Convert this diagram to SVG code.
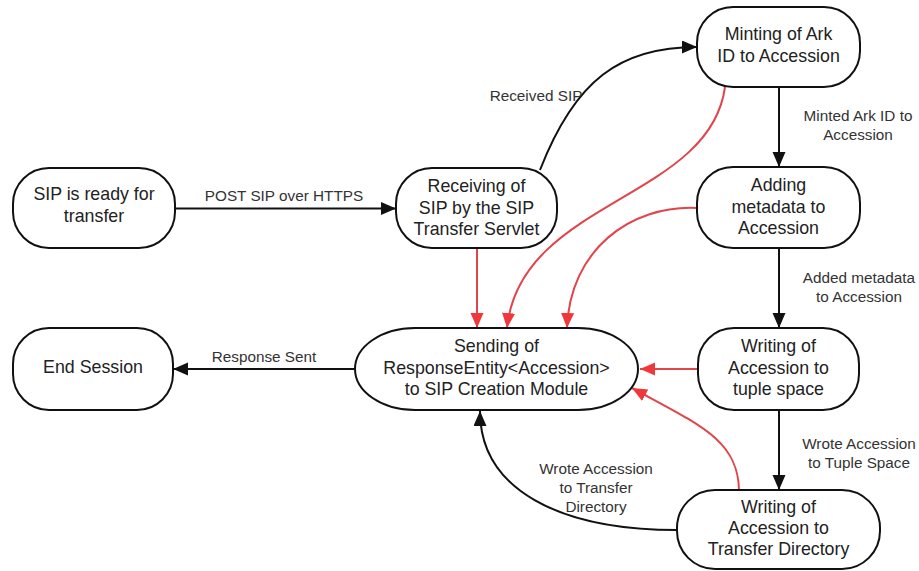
<svg xmlns="http://www.w3.org/2000/svg" width="919" height="571" viewBox="0 0 919 571">
<style>
.node rect{fill:#fff;stroke:#111;stroke-width:2}
.nt{font-family:"Liberation Sans",Arial,sans-serif;font-size:17.8px;fill:#222;text-anchor:middle}
.lb{font-family:"Liberation Sans",Arial,sans-serif;font-size:15.3px;fill:#333;text-anchor:middle}
.blk{fill:none;stroke:#111;stroke-width:2}
.red{fill:none;stroke:#e0454b;stroke-width:2}
</style>
<defs>
<marker id="ab" markerUnits="userSpaceOnUse" markerWidth="17" markerHeight="14" refX="15" refY="6.5" orient="auto"><path d="M0,0 L15,6.5 L0,13 z" fill="#111"/></marker>
<marker id="ar" markerUnits="userSpaceOnUse" markerWidth="17" markerHeight="14" refX="15" refY="6.5" orient="auto"><path d="M0,0 L15,6.5 L0,13 z" fill="#f0383c"/></marker>
</defs>
<rect width="919" height="571" fill="#fff"/>
<g id="connectors">
<path class="blk" d="M175,208.5 L396,208.5" marker-end="url(#ab)"/>
<path class="blk" d="M540,170 C575,80 620,47 697,47" marker-end="url(#ab)"/>
<path class="blk" d="M779,87 L779,167" marker-end="url(#ab)"/>
<path class="blk" d="M779,248 L779,328" marker-end="url(#ab)"/>
<path class="blk" d="M779,410 L779,490" marker-end="url(#ab)"/>
<path class="blk" d="M677,530 C560,530 480,490 480,411" marker-end="url(#ab)"/>
<path class="blk" d="M355,369 L173,369" marker-end="url(#ab)"/>
<path class="red" d="M477,248 L477,328" marker-end="url(#ar)"/>
<path class="red" d="M725,87 C710,200 520,200 507,328" marker-end="url(#ar)"/>
<path class="red" d="M697,208 C630,205 570,250 567,328" marker-end="url(#ar)"/>
<path class="red" d="M698,369 L640,369" marker-end="url(#ar)"/>
<path class="red" d="M739,490 C738,440 700,425 632,388" marker-end="url(#ar)"/>
<text class="lb" x="284" y="201">POST SIP over HTTPS</text>
<text class="lb" x="536" y="101">Received SIP</text>
<text class="lb" x="858" y="121">Minted Ark ID to</text>
<text class="lb" x="858" y="140">Accession</text>
<text class="lb" x="859" y="283">Added metadata</text>
<text class="lb" x="859" y="302">to Accession</text>
<text class="lb" x="859" y="449">Wrote Accession</text>
<text class="lb" x="859" y="468">to Tuple Space</text>
<text class="lb" x="596" y="474">Wrote Accession</text>
<text class="lb" x="596" y="493">to Transfer</text>
<text class="lb" x="596" y="512">Directory</text>
<text class="lb" x="264" y="362">Response Sent</text>
</g>
<g id="n1" class="node"><rect x="13" y="168" width="162" height="80" rx="36" ry="36"/>
<text class="nt" x="94" y="200">SIP is ready for</text><text class="nt" x="94" y="222">transfer</text></g>
<g id="n2" class="node"><rect x="396" y="168" width="161" height="80" rx="36" ry="36"/>
<text class="nt" x="476.5" y="192">Receiving of</text><text class="nt" x="476.5" y="213.5">SIP by the SIP</text><text class="nt" x="476.5" y="235">Transfer Servlet</text></g>
<g id="n3" class="node"><rect x="697" y="7" width="163" height="80" rx="36" ry="36"/>
<text class="nt" x="778.5" y="40">Minting of Ark</text><text class="nt" x="778.5" y="62">ID to Accession</text></g>
<g id="n4" class="node"><rect x="697" y="167" width="163" height="81" rx="36" ry="36"/>
<text class="nt" x="778.5" y="191">Adding</text><text class="nt" x="778.5" y="213">metadata to</text><text class="nt" x="778.5" y="234">Accession</text></g>
<g id="n5" class="node"><rect x="698" y="328" width="161" height="82" rx="36" ry="36"/>
<text class="nt" x="778.5" y="352">Writing of</text><text class="nt" x="778.5" y="373.5">Accession to</text><text class="nt" x="778.5" y="395">tuple space</text></g>
<g id="n6" class="node"><rect x="677" y="490" width="203" height="79" rx="38" ry="38"/>
<text class="nt" x="778.5" y="513">Writing of</text><text class="nt" x="778.5" y="534">Accession to</text><text class="nt" x="778.5" y="555">Transfer Directory</text></g>
<g id="n7" class="node"><rect x="355" y="328" width="283" height="82" rx="60" ry="41"/>
<text class="nt" x="496.5" y="352">Sending of</text><text class="nt" x="496.5" y="373.5">ResponseEntity&lt;Accession&gt;</text><text class="nt" x="496.5" y="395">to SIP Creation Module</text></g>
<g id="n8" class="node"><rect x="13" y="328" width="160" height="82" rx="36" ry="36"/>
<text class="nt" x="93" y="373">End Session</text></g>
</svg>
